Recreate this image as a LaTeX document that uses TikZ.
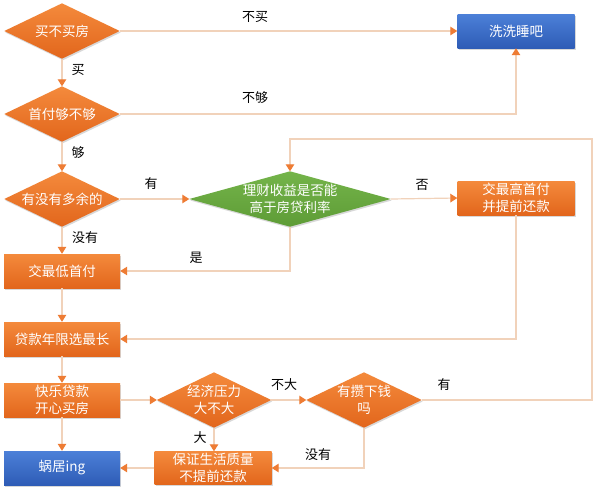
\documentclass[tikz,border=0pt]{standalone}
\usepackage{fontspec}
\setmainfont{Noto Sans CJK SC}
\usetikzlibrary{arrows.meta,backgrounds,shadows}
\definecolor{orT}{HTML}{F48A3C}
\definecolor{orB}{HTML}{E2661C}
\definecolor{blT}{HTML}{4C80D8}
\definecolor{blB}{HTML}{2E5CB6}
\definecolor{grT}{HTML}{74B44A}
\definecolor{grB}{HTML}{5E9C36}
\definecolor{linec}{HTML}{F1D2BA}
\definecolor{tipc}{HTML}{EE7C34}
\pgfdeclarelayer{bgzero}
\pgfsetlayers{bgzero,background,main}
\tikzset{
  shd/.style={drop shadow={shadow xshift=1pt,shadow yshift=-1.5pt,opacity=0.3}},
  obox/.style={rectangle,minimum width=116pt,minimum height=34pt,inner sep=0pt,align=center,text=white,
    font=\fontsize{13.5}{16.5}\selectfont,top color=orT,bottom color=orB,shd},
  bbox/.style={obox,top color=blT,bottom color=blB},
  dnode/.style={rectangle,minimum width=115pt,minimum height=55pt,inner sep=0pt,align=center,text=white,
    font=\fontsize{13.5}{16.5}\selectfont},
  lbl/.style={font=\fontsize{13}{15}\selectfont,text=black,inner sep=0pt},
  arr/.style={draw=linec,line width=1.2pt,-{Triangle[length=7pt,width=8.5pt,color=tipc,fill=tipc]}},
}
\newcommand{\mydia}[3]{\shade[top color=#2,bottom color=#3,shd] (#1.north) -- (#1.east) -- (#1.south) -- (#1.west) -- cycle;}
\begin{document}
\begin{tikzpicture}[x=1pt,y=-1pt]
\begin{pgfonlayer}{bgzero}
\fill[white] (0,0) rectangle (600,499);
\end{pgfonlayer}
\useasboundingbox (0,0) rectangle (600,499);
% diamonds (text nodes)
\node[dnode] (d1) at (62,31) {买不买房};
\node[dnode] (d2) at (62,114) {首付够不够};
\node[dnode] (d3) at (62,199) {有没有多余的};
\node[dnode,minimum width=201pt] (g) at (290,199) {理财收益是否能\\高于房贷利率};
\node[dnode,minimum width=114pt] (jj) at (214,400) {经济压力\\大不大};
\node[dnode] (yz) at (364,400) {有攒下钱\\吗};
\begin{scope}[on background layer]
\mydia{d1}{orT}{orB}
\mydia{d2}{orT}{orB}
\mydia{d3}{orT}{orB}
\mydia{g}{grT}{grB}
\mydia{jj}{orT}{orB}
\mydia{yz}{orT}{orB}
\end{scope}
% boxes
\node[bbox,minimum width=117pt] (s) at (516,31) {洗洗睡吧};
\node[obox,minimum width=117pt] (h) at (516,198) {交最高首付\\并提前还款};
\node[obox] (lo) at (62,271) {交最低首付};
\node[obox] (yr) at (62,339) {贷款年限选最长};
\node[obox] (kl) at (62,400) {快乐贷款\\开心买房};
\node[bbox] (wj) at (62,468) {蜗居ing};
\node[obox,minimum width=117pt,minimum height=33pt] (bz) at (213,468) {保证生活质量\\不提前还款};
% helper coordinates
\coordinate (c1) at (592,400);
\coordinate (c2) at (592,139);
% connectors
\draw[arr] (d1.east) -- (s.west);
\draw[arr] (d1.south) -- (d2.north);
\draw[arr] (d2.east) -| (s.south);
\draw[arr] (d2.south) -- (d3.north);
\draw[arr] (d3.east) -- (g.west);
\draw[arr] (d3.south) -- (lo.north);
\draw[arr] (g.east) -- (h.west);
\draw[arr] (g.south) |- (lo.east);
\draw[arr] (h.south) |- (yr.east);
\draw[arr] (lo.south) -- (yr.north);
\draw[arr] (yr.south) -- (kl.north);
\draw[arr] (kl.east) -- (jj.west);
\draw[arr] (kl.south) -- (wj.north);
\draw[arr] (jj.east) -- (yz.west);
\draw[arr] (jj.south) -- (jj.south |- bz.north);
\draw[arr] (yz.east) -- (c1) -- (c2) -| (g.north);
\draw[arr] (yz.south) |- (bz.east);
\draw[arr] (bz.west) -- (wj.east);
% labels
\node[lbl] (l1) at (255,17) {不买};
\node[lbl] (l2) at (78,70) {买};
\node[lbl] (l3) at (255,98) {不够};
\node[lbl] (l4) at (78,153) {够};
\node[lbl] (l5) at (151,184) {有};
\node[lbl] (l6) at (85,238) {没有};
\node[lbl] (l7) at (422,185) {否};
\node[lbl] (l8) at (196,258) {是};
\node[lbl] (l9) at (284,385) {不大};
\node[lbl] (l10) at (200,438) {大};
\node[lbl] (l11) at (444,385) {有};
\node[lbl] (l12) at (318,455) {没有};
\end{tikzpicture}
\end{document}
